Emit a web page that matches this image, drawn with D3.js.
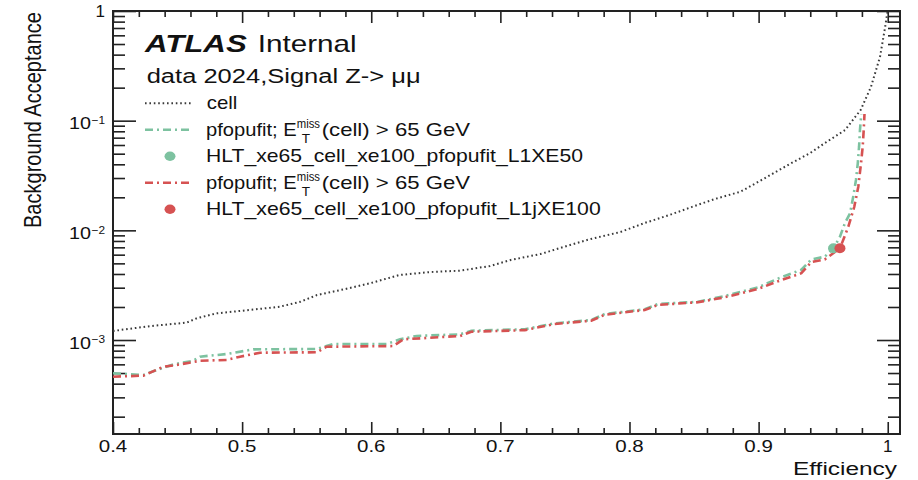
<!DOCTYPE html>
<html>
<head>
<meta charset="utf-8">
<script src="https://cdn.jsdelivr.net/npm/d3@7/dist/d3.min.js"></script>
<style>
body{margin:0;background:#fff;}
text{font-family:"Liberation Sans",Arial,Helvetica,sans-serif;fill:#111;}
</style>
</head>
<body>
<svg width="918" height="480"></svg>
<script>
// ROC-like curves: signal efficiency vs background acceptance
var cellEff = [0.400,0.429,0.457,0.465,0.480,0.506,0.529,0.545,0.558,0.580,0.599,0.622,0.646,0.669,0.692,0.708,
  0.731,0.754,0.770,0.793,0.812,0.831,0.848,0.866,0.886,0.905,0.925,0.940,0.951,0.967,0.979,0.987,0.994,0.998,0.9994,1.0];
var cellAcc = [1.21e-3,1.34e-3,1.44e-3,1.58e-3,1.75e-3,1.88e-3,2.01e-3,2.23e-3,2.57e-3,2.92e-3,3.29e-3,3.92e-3,4.17e-3,4.29e-3,4.73e-3,5.37e-3,
  6.08e-3,7.35e-3,8.34e-3,9.66e-3,1.17e-2,1.38e-2,1.63e-2,1.93e-2,2.25e-2,3.0e-2,4.08e-2,5.07e-2,6.22e-2,8.22e-2,0.125,0.203,0.381,0.715,0.92,1.0];

var l1xeEff = [0.400,0.4235,0.434,0.4467,0.462,0.4674,0.488,0.5087,0.5578,0.5706,0.612,0.6223,0.6352,0.6688,0.6775,0.7189,
  0.742,0.7704,0.7808,0.8118,0.8221,0.8531,0.8737,0.8995,0.915,0.9331,0.9408,0.9512,0.958,0.963,0.9668,0.9708,0.9733,
  0.9754,0.9768,0.9778,0.9785,0.9795];
var l1xeAcc = [4.98e-4,4.80e-4,5.33e-4,6.0e-4,6.47e-4,7.05e-4,7.45e-4,8.22e-4,8.28e-4,9.2e-4,9.2e-4,1.014e-3,1.089e-3,1.127e-3,1.216e-3,1.253e-3,
  1.419e-3,1.52e-3,1.726e-3,1.905e-3,2.13e-3,2.23e-3,2.52e-3,3.02e-3,3.63e-3,4.37e-3,5.43e-3,5.75e-3,6.86e-3,8.75e-3,1.16e-2,1.43e-2,2.03e-2,
  2.88e-2,4.08e-2,5.79e-2,8.22e-2,0.115];

var l1jxeEff = [0.400,0.4235,0.439,0.4493,0.4674,0.488,0.4984,0.5139,0.5578,0.5655,0.617,0.6248,0.6688,0.6775,0.7189,0.742,
  0.7704,0.7808,0.8118,0.8221,0.8531,0.8737,0.8995,0.915,0.9331,0.9408,0.9512,0.963,0.9695,0.9741,0.9772,0.9793,0.9806,0.9814,0.982];
var l1jxeAcc = [4.63e-4,4.73e-4,5.71e-4,5.92e-4,6.47e-4,6.58e-4,7.05e-4,7.66e-4,7.73e-4,8.69e-4,8.81e-4,1.014e-3,1.089e-3,1.19e-3,1.23e-3,1.40e-3,
  1.50e-3,1.70e-3,1.88e-3,2.09e-3,2.21e-3,2.45e-3,2.92e-3,3.43e-3,4.07e-3,5.13e-3,5.43e-3,6.86e-3,1.08e-2,1.64e-2,2.50e-2,4.08e-2,5.79e-2,8.22e-2,0.115];

// HLT working points (L1XE50, L1jXE100)
var wpEff = [0.958, 0.963];
var wpAcc = [6.86e-3, 6.86e-3];

var xTicks = [0.4,0.5,0.6,0.7,0.8,0.9,1.0];
var xTickLabels = ["0.4","0.5","0.6","0.7","0.8","0.9","1"];
var yTicks = [1e-3,1e-2,1e-1,1];
var yTickExp = ["\u22123","\u22122","\u22121",""];

var green = "#7dc2a0", red = "#d65252", cellCol = "#3a3a3a";

var svg = d3.select('svg');

var xScale = d3.scaleLinear()
  .domain([0.4, 1.0095])
  .range([113, 900]);
var yScale = d3.scaleLog()
  .domain([Math.pow(10,-3.857), 1])
  .range([434, 11]);

//minor ticks
var xMinor = d3.range(0.42, 1.0095, 0.02).filter(function(v){return Math.abs(v*10-Math.round(v*10))>1e-6;});
var yMinor = [];
[-4,-3,-2,-1].forEach(function(d){
  for(var k=2;k<=9;k++){
    var v = k*Math.pow(10,d);
    if(v>=yScale.domain()[0]) yMinor.push(v);
  }
});

var drawAxis = function(axis, tr)
{
  svg.append('g')
    .attr('transform', tr)
    .style('color','#222')
    .attr('stroke-width',1.6)
    .call(axis)
    .call(function(g){g.select('.domain').remove();});
}
drawAxis(d3.axisBottom(xScale).tickValues(xTicks).tickSize(-12).tickFormat(''), 'translate(0,434)');
drawAxis(d3.axisBottom(xScale).tickValues(xMinor).tickSize(-6).tickFormat(''), 'translate(0,434)');
drawAxis(d3.axisTop(xScale).tickValues(xTicks).tickSize(-12).tickFormat(''), 'translate(0,11)');
drawAxis(d3.axisTop(xScale).tickValues(xMinor).tickSize(-6).tickFormat(''), 'translate(0,11)');
drawAxis(d3.axisLeft(yScale).tickValues(yTicks).tickSize(-23).tickFormat(''), 'translate(113,0)');
drawAxis(d3.axisLeft(yScale).tickValues(yMinor).tickSize(-12).tickFormat(''), 'translate(113,0)');
drawAxis(d3.axisRight(yScale).tickValues(yTicks).tickSize(-23).tickFormat(''), 'translate(900,0)');
drawAxis(d3.axisRight(yScale).tickValues(yMinor).tickSize(-12).tickFormat(''), 'translate(900,0)');

svg.append('rect')
  .attr('x',113).attr('y',11)
  .attr('width',787).attr('height',423)
  .attr('fill','none')
  .attr('stroke','#222')
  .attr('stroke-width',2);

var label = function(str, x, y, size, len, anchor)
{
  var t = svg.append('text')
    .attr('x',x).attr('y',y)
    .style('font-size',size+'px')
    .text(str);
  if(anchor) t.attr('text-anchor',anchor);
  if(len) t.attr('textLength',len).attr('lengthAdjust','spacingAndGlyphs');
  return t;
}

//tick labels
xTicks.forEach(function(d,i){
  var s = xTickLabels[i];
  label(s, xScale(d), 452, 17, s.length>1 ? 28.5 : null, 'middle');
});
yTicks.forEach(function(d,i){
  var y = yScale(d);
  if(yTickExp[i]==""){
    label("1", 105, y+6, 17, null, 'end');
  } else {
    label("10", 91, y+8.7, 17, 22, 'end');
    label(yTickExp[i], 91.5, y+3.3, 11.5, 13.5);
  }
});

//axis titles
label("Efficiency", 897, 475, 18, 104, 'end');
svg.append('text')
  .attr('transform','translate(40.5,228) scale(1.2,1) rotate(-90)')
  .style('font-size','20px')
  .attr('textLength',216)
  .attr('lengthAdjust','spacingAndGlyphs')
  .text('Background Acceptance');

//curves
var line = d3.line()
  .x(function(d){return xScale(d[0]);})
  .y(function(d){return yScale(d[1]);});

svg.append('path')
  .datum(d3.zip(cellEff, cellAcc))
  .attr('d', line)
  .attr('fill','none')
  .attr('stroke', cellCol)
  .attr('stroke-width',2)
  .attr('stroke-dasharray','1.6,2.8');
svg.append('path')
  .datum(d3.zip(l1xeEff, l1xeAcc))
  .attr('d', line)
  .attr('fill','none')
  .attr('stroke', green)
  .attr('stroke-width',2.6)
  .attr('stroke-dasharray','8,4,2,4');
svg.append('path')
  .datum(d3.zip(l1jxeEff, l1jxeAcc))
  .attr('d', line)
  .attr('fill','none')
  .attr('stroke', red)
  .attr('stroke-width',2.6)
  .attr('stroke-dasharray','8,4,2,4');

svg.selectAll('.wp')
  .data(d3.zip(wpEff, wpAcc))
  .enter().append('ellipse')
  .attr('class','wp')
  .attr('cx', function(d){return xScale(d[0]);})
  .attr('cy', function(d){return yScale(d[1]);})
  .attr('rx',5.5).attr('ry',5)
  .attr('fill', function(d,i){return i==0 ? green : red;});

//ATLAS label
label("ATLAS", 145, 52.3, 24, 101.7).style('font-weight','bold').style('font-style','italic');
label("Internal", 257.7, 52.3, 24, 99);
label("data 2024,Signal Z-> \u03bc\u03bc", 146.7, 83.3, 19.5, 274);

//legend
var rowBase = [109.3, 135.8, 162.3, 188.8, 215.3];
svg.append('line')
  .attr('x1',145).attr('x2',193)
  .attr('y1',rowBase[0]-6).attr('y2',rowBase[0]-6)
  .attr('stroke',cellCol).attr('stroke-width',2).attr('stroke-dasharray','1.6,2.8');
label("cell", 206.7, rowBase[0], 19, 30.6);

[[1,green],[3,red]].forEach(function(r){
  var b = rowBase[r[0]];
  svg.append('line')
    .attr('x1',145).attr('x2',193)
    .attr('y1',b-6).attr('y2',b-6)
    .attr('stroke',r[1]).attr('stroke-width',2.6).attr('stroke-dasharray','8,4,2,4');
  label("pfopufit; E", 206, b, 19, 90.7);
  label("miss", 296.7, b-7.5, 12, 23.3);
  label("T", 301.7, b+7, 13, 8.3);
  label("(cell) > 65 GeV", 321.7, b, 19, 148.3);
});
[[2,green,"HLT_xe65_cell_xe100_pfopufit_L1XE50",377],[4,red,"HLT_xe65_cell_xe100_pfopufit_L1jXE100",394.7]].forEach(function(r){
  var b = rowBase[r[0]];
  svg.append('ellipse')
    .attr('cx',170).attr('cy',b-6)
    .attr('rx',5.5).attr('ry',4.7)
    .attr('fill',r[1]);
  label(r[2], 206, b, 19, r[3]);
});
</script>
</body>
</html>
